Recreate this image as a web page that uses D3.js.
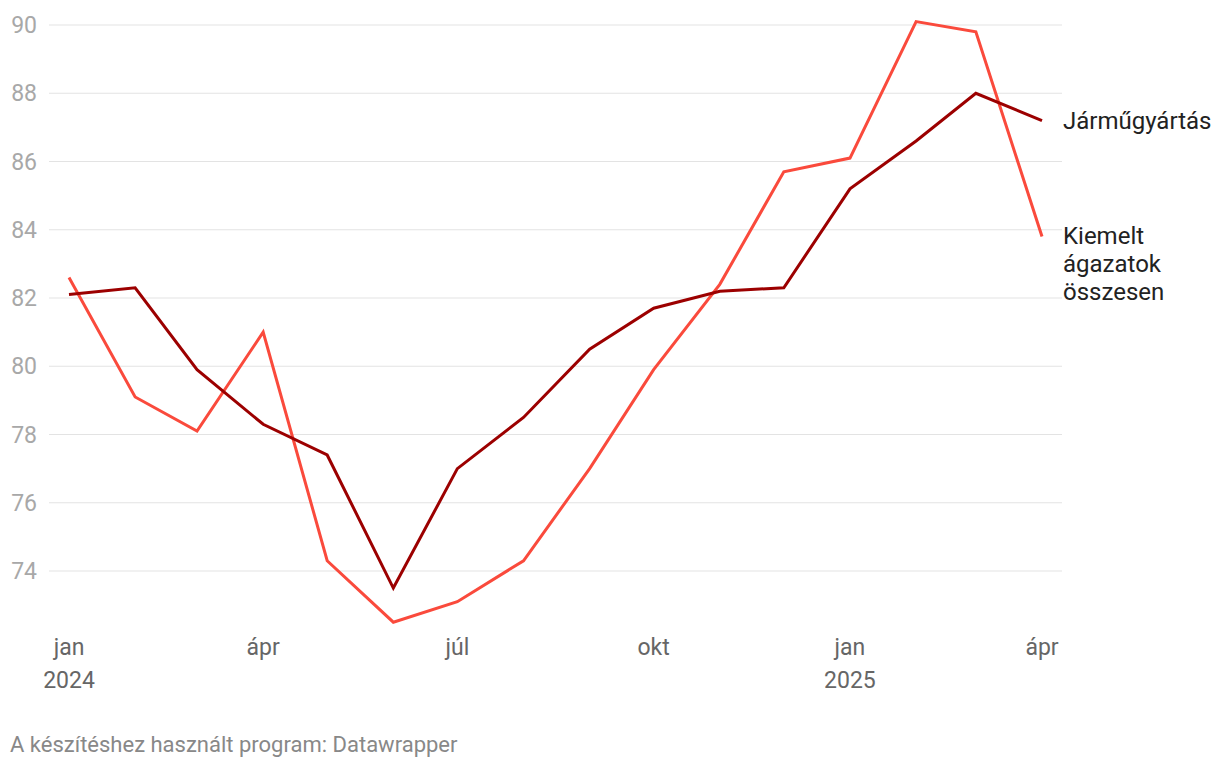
<!DOCTYPE html>
<html><head><meta charset="utf-8">
<script src="https://cdn.jsdelivr.net/npm/d3@7"></script>
<style>body{margin:0;background:#fff;font-family:Roboto,sans-serif}</style>
</head><body><svg id="c" width="1220" height="768"></svg>
<script>
const months = ["2024-01","2024-02","2024-03","2024-04","2024-05","2024-06","2024-07","2024-08","2024-09","2024-10","2024-11","2024-12","2025-01","2025-02","2025-03","2025-04"];
const kiemelt = [82.6,79.1,78.1,81.0,74.3,72.5,73.1,74.3,77.0,79.9,82.4,85.7,86.1,90.1,89.8,83.8];
const jarmu = [82.1,82.3,79.9,78.3,77.4,73.5,77.0,78.5,80.5,81.7,82.2,82.3,85.2,86.6,88.0,87.2];
const yTicks = [74,76,78,80,82,84,86,88,90];
const xTickLabels = [["2024-01","jan","2024"],["2024-04","ápr",""],["2024-07","júl",""],["2024-10","okt",""],["2025-01","jan","2025"],["2025-04","ápr",""]];
const series = [
  {name:["Kiemelt","ágazatok","összesen"], values:kiemelt, color:"#fa4a3c"},
  {name:["Járműgyártás"], values:jarmu, color:"#9c0000"}
];

const svg = d3.select("#c");
const parse = d3.timeParse("%Y-%m");
const dates = months.map(parse);
const x = d3.scaleTime().domain([dates[0], dates[dates.length-1]]).range([69,1042]);
const y = d3.scaleLinear().domain([74,90]).range([571,25]);

// grid
const g = svg.append("g");
g.selectAll("line.grid").data(yTicks).join("line")
  .attr("x1",49).attr("x2",1062)
  .attr("y1",d=>y(d)).attr("y2",d=>y(d))
  .attr("stroke","#e3e3e3").attr("stroke-width",1);
g.selectAll("text.yt").data(yTicks).join("text")
  .attr("x",37).attr("y",d=>y(d)).attr("dy","0.35em")
  .attr("text-anchor","end").attr("fill","#a8a8a8")
  .style("font-size","23px").text(d=>d);

// x labels
const xl = svg.append("g");
xTickLabels.forEach(([m,a,b])=>{
  const t = xl.append("text").attr("x",x(parse(m))).attr("text-anchor","middle")
    .attr("fill","#666").style("font-size","23px");
  t.append("tspan").attr("x",x(parse(m))).attr("y",655).text(a);
  if(b) t.append("tspan").attr("x",x(parse(m))).attr("y",688).text(b);
});

const line = d3.line().x((d,i)=>x(dates[i])).y(d=>y(d));
series.forEach(s=>{
  svg.append("path").datum(s.values).attr("d",line)
    .attr("fill","none").attr("stroke",s.color).attr("stroke-width",3)
    .attr("stroke-linejoin","miter").attr("stroke-linecap","butt");
});

// labels
const last = dates.length-1;
svg.append("text").attr("x",1063).attr("y",y(jarmu[last])).attr("dy","0.35em")
  .attr("fill","#222").style("font-size","24px").text(series[1].name[0]);
const kt = svg.append("text").attr("fill","#222").style("font-size","24px");
series[0].name.forEach((n,i)=>{
  kt.append("tspan").attr("x",1063).attr("y",y(kiemelt[last])+7+i*28).text(n);
});

svg.append("text").attr("x",10).attr("y",752).attr("fill","#888")
  .style("font-size","22px").text("A készítéshez használt program: Datawrapper");
</script></body></html>
